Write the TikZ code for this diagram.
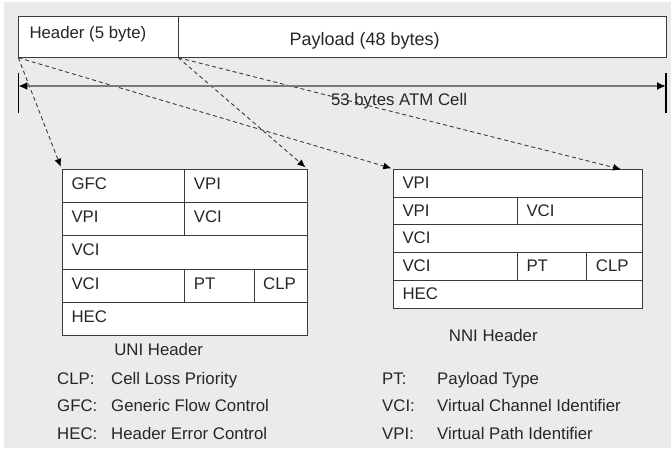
\documentclass[tikz,border=0pt]{standalone}
\usepackage{fontspec}
\setmainfont{Liberation Sans}
\usetikzlibrary{arrows.meta}

\definecolor{panel}{HTML}{EBEBEB}
\definecolor{frame}{HTML}{3A3A3A}
\definecolor{dimline}{HTML}{7A7A7A}

\newcommand\labfont{\fontsize{16.8}{20}\selectfont}
\newcommand\bigfont{\fontsize{18}{22}\selectfont}
\def\celldrop{20pt}

% one field of a header layout: name, x, y (top left), width, height, text
\newcommand\atmfield[6]{%
  \node[fieldbox, minimum width=#4pt, minimum height=#5pt,
        label={[fieldtext]north west:#6}] (#1) at (#2,#3) {};}

\begin{document}
\begin{tikzpicture}[x=1pt, y=-1pt,
  fieldbox/.style={draw=frame, line width=1pt, fill=white, rectangle,
                   anchor=north west, inner sep=0pt, outer sep=0pt},
  fieldtext/.style={anchor=base west, inner sep=0pt, xshift=9pt,
                    yshift=-\celldrop, font=\labfont, text=black!85},
  mapping/.style={draw=frame, line width=0.9pt, dash pattern=on 4pt off 3pt,
                  -{Latex[length=8pt, width=7pt, color=black]}},
  legend/.style={anchor=base west, inner sep=0pt, font=\labfont, text=black!85},
  caption/.style={anchor=base, inner sep=0pt, font=\labfont, text=black!85}]

\useasboundingbox (0,0) rectangle (671,455);
\fill[white] (0,0) rectangle (671,455);
\fill[panel] (4,2) rectangle (671,448);

% the 53-byte cell
\node[fieldbox, minimum width=160pt, minimum height=41.7pt,
      label={[fieldtext, xshift=2pt, yshift=-2pt]north west:Header (5 byte)}]
      (hdr) at (18.3,16) {};
\node[fieldbox, minimum width=487.7pt, minimum height=41.7pt,
      label={[fieldtext, font=\bigfont, xshift=102pt, yshift=-9pt]north west:Payload (48 bytes)}]
      (pay) at (178.3,16) {};

% overall length
\coordinate (lt) at (18.3,72.5);
\coordinate (lb) at (18.3,113);
\coordinate (rt) at (666,72.5);
\coordinate (rb) at (666,113);
\coordinate (la) at (18.3,86);
\coordinate (ra) at (666,86);
\draw[line width=1.2pt, black] (lt) -- (lb);
\draw[line width=1.2pt, black] (rt) -- (rb);

% UNI header layout
\def\celldrop{20pt}
\atmfield{u11}{62.3}{169.3}{122.4}{33.3}{GFC}
\atmfield{u12}{184.7}{169.3}{122.3}{33.3}{VPI}
\atmfield{u21}{62.3}{202.6}{122.4}{33.3}{VPI}
\atmfield{u22}{184.7}{202.6}{122.3}{33.3}{VCI}
\atmfield{u3}{62.3}{235.9}{244.7}{33.3}{VCI}
\atmfield{u41}{62.3}{269.2}{122.4}{33.3}{VCI}
\atmfield{u42}{184.7}{269.2}{69.3}{33.3}{PT}
\atmfield{u43}{254}{269.2}{53}{33.3}{CLP}
\atmfield{u5}{62.3}{302.5}{244.7}{33.3}{HEC}
\node[caption] (unicap) at (158.7,355) {UNI Header};

% NNI header layout
\def\celldrop{19pt}
\atmfield{n1}{393.3}{169.3}{248.9}{27.75}{VPI}
\atmfield{n21}{393.3}{197.05}{124}{27.75}{VPI}
\atmfield{n22}{517.3}{197.05}{124.9}{27.75}{VCI}
\atmfield{n3}{393.3}{224.8}{248.9}{27.75}{VCI}
\atmfield{n41}{393.3}{252.55}{124}{27.75}{VCI}
\atmfield{n42}{517.3}{252.55}{69.4}{27.75}{PT}
\atmfield{n43}{586.7}{252.55}{55.5}{27.75}{CLP}
\atmfield{n5}{393.3}{280.3}{248.9}{27.75}{HEC}
\node[caption] (nnicap) at (493.3,341) {NNI Header};

% header bytes mapped onto both layouts
\coordinate (nnitip) at (621,169.3);
\draw[mapping] (hdr.south west) -- ([shift={(-1.5pt,2.5pt)}]u11.north west);
\draw[mapping] (hdr.south west) -- ([shift={(-2pt,1pt)}]n1.north west);
\draw[mapping] (hdr.south east) -- ([shift={(-1.5pt,2pt)}]u12.north east);
\draw[mapping] (hdr.south east) -- (nnitip);

% length arrow and its caption, drawn over the dashed lines
\draw[line width=2pt, dimline,
      {Latex[length=9pt, width=8pt, color=black]}-{Latex[length=9pt, width=8pt, color=black]}]
      (la) -- (ra);
\node[caption] (celllen) at (399,105) {53 bytes ATM Cell};

% abbreviations
\node[legend] (kclp) at (57,384.3) {CLP:};
\node[legend] (dclp) at (111,384.3) {Cell Loss Priority};
\node[legend] (kgfc) at (57,411.5) {GFC:};
\node[legend] (dgfc) at (111,411.5) {Generic Flow Control};
\node[legend] (khec) at (57,439) {HEC:};
\node[legend] (dhec) at (111,439) {Header Error Control};
\node[legend] (kpt) at (382,384.3) {PT:};
\node[legend] (dpt) at (437,384.3) {Payload Type};
\node[legend] (kvci) at (382,411.5) {VCI:};
\node[legend] (dvci) at (437,411.5) {Virtual Channel Identifier};
\node[legend] (kvpi) at (382,439) {VPI:};
\node[legend] (dvpi) at (437,439) {Virtual Path Identifier};
\end{tikzpicture}
\end{document}
